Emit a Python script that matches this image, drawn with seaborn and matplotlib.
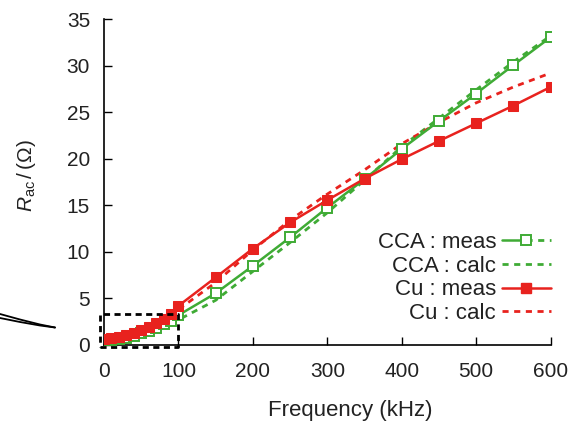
import matplotlib
matplotlib.use("Agg")
import matplotlib.pyplot as plt
from matplotlib.lines import Line2D
from matplotlib.legend_handler import HandlerBase
import seaborn as sns
import pandas as pd

# measured data
meas_freq = [0, 10, 20, 30, 40, 50, 60, 70, 80, 90, 100, 150, 200, 250, 300, 350, 400, 450, 500, 550, 600]
cca_meas = [0.5, 0.55, 0.65, 0.8, 1.0, 1.25, 1.5, 1.85, 2.2, 2.6, 3.2, 5.55, 8.5, 11.55, 14.75, 17.8, 21.05, 24.05, 27.0, 30.05, 33.05]
cu_meas = [0.6, 0.7, 0.85, 1.05, 1.3, 1.6, 1.95, 2.35, 2.8, 3.3, 4.2, 7.25, 10.35, 13.15, 15.55, 17.85, 19.95, 21.9, 23.8, 25.7, 27.7]

# calculated curves
calc_freq = [0, 25, 50, 75, 100, 150, 200, 250, 300, 350, 400, 450, 500, 550, 600]
cca_calc = [0.45, 0.6, 1.0, 1.7, 2.7, 4.8, 7.9, 11.0, 14.2, 17.7, 21.3, 24.35, 27.4, 30.4, 33.2]
cu_calc = [0.5, 0.9, 1.6, 2.6, 3.8, 6.7, 10.2, 13.4, 16.2, 18.8, 21.6, 23.9, 26.0, 27.7, 29.2]

x_ticks = [0, 100, 200, 300, 400, 500, 600]
y_ticks = [0, 5, 10, 15, 20, 25, 30, 35]

GREEN = "#3fab35"
RED = "#e8221e"
TXT = "#222222"
DASH = (0, (2.2, 2.0))

sns.set_style("ticks")
plt.rcParams["font.family"] = ["Liberation Sans", "DejaVu Sans"]
plt.rcParams["mathtext.fontset"] = "custom"
plt.rcParams["mathtext.it"] = "Liberation Sans:italic"
plt.rcParams["mathtext.rm"] = "Liberation Sans"

fig = plt.figure(figsize=(5.73, 4.28), dpi=100)
ax = fig.add_axes([0.1815, 0.194, 0.961 - 0.1815, 0.9556 - 0.194])

df_meas = pd.DataFrame({"f": meas_freq, "cca": cca_meas, "cu": cu_meas})
df_calc = pd.DataFrame({"f": calc_freq, "cca": cca_calc, "cu": cu_calc})

sns.lineplot(data=df_calc, x="f", y="cca", ax=ax, color=GREEN, lw=2, linestyle=DASH, zorder=2)
sns.lineplot(data=df_calc, x="f", y="cu", ax=ax, color=RED, lw=2, linestyle=DASH, zorder=2)
sns.lineplot(data=df_meas, x="f", y="cca", ax=ax, color=GREEN, lw=1.8, marker="s", markersize=7,
             markerfacecolor="white", markeredgecolor=GREEN, markeredgewidth=1.4, zorder=3)
sns.lineplot(data=df_meas, x="f", y="cu", ax=ax, color=RED, lw=1.8, marker="s", markersize=7,
             markerfacecolor=RED, markeredgecolor=RED, zorder=4)

ax.set_xlim(0, 600)
ax.set_ylim(0, 35)
ax.set_xticks(x_ticks)
ax.set_yticks(y_ticks)
sns.despine(ax=ax)
for s in ["left", "bottom"]:
    ax.spines[s].set_color("black")
    ax.spines[s].set_linewidth(1.2)
ax.tick_params(direction="in", length=6, width=1.0, labelsize=15, colors="black", labelcolor=TXT, pad=12)
ax.tick_params(axis="y", pad=10)

ax.set_xlabel("Frequency (kHz)", fontsize=16, color=TXT)
ax.set_ylabel(r"$R_{\mathrm{ac}}\,/\,$($\Omega$)", fontsize=15, color=TXT)
ax.xaxis.set_label_coords(0.551, -0.168)
ax.yaxis.set_label_coords(-0.148, 0.521)

# dashed zoom rectangle
ax.plot([-5, 99.5, 99.5, -5, -5], [-0.2, -0.2, 3.33, 3.33, -0.2], color="black", lw=2,
        linestyle=(0, (2.2, 1.6)), clip_on=False, zorder=5)

# remnant lines of an inset connector at left edge
W, H = 573.0, 428.0
fig.add_artist(Line2D([0 / W, 20 / W, 40 / W, 55 / W],
                      [1 - 314 / H, 1 - 319.5 / H, 1 - 324.5 / H, 1 - 327.5 / H],
                      color="black", lw=1.3))
fig.add_artist(Line2D([0 / W, 20 / W, 40 / W, 55 / W],
                      [1 - 318 / H, 1 - 322 / H, 1 - 325.5 / H, 1 - 327.5 / H],
                      color="black", lw=1.3))


class SolidMarkerDashed(HandlerBase):
    """Solid line up to the marker, dashed after it (as in the reference key)."""
    def create_artists(self, legend, orig_handle, xdescent, ydescent, width, height, fontsize, trans):
        y = height / 2.0 - ydescent
        x0, x1 = -xdescent, -xdescent + width
        xm = x0 + 0.5 * width
        solid = Line2D([x0, xm], [y, y], color=orig_handle.get_color(), lw=1.8)
        dashed = Line2D([xm, x1], [y, y], color=orig_handle.get_color(), lw=2, linestyle=DASH)
        mk = Line2D([xm], [y], marker="s", markersize=7, markerfacecolor="white",
                    markeredgecolor=orig_handle.get_color(), markeredgewidth=1.4, linestyle="none")
        for a in (solid, dashed, mk):
            a.set_transform(trans)
        return [solid, dashed, mk]


h_cca_meas = Line2D([], [], color=GREEN, lw=1.8, marker="s", markersize=7, markerfacecolor="white",
                    markeredgecolor=GREEN, markeredgewidth=1.4)
handles = [
    h_cca_meas,
    Line2D([], [], color=GREEN, lw=2, linestyle=DASH),
    Line2D([], [], color=RED, lw=1.8, marker="s", markersize=7, markerfacecolor=RED),
    Line2D([], [], color=RED, lw=2, linestyle=DASH),
]
labels = ["CCA : meas", "CCA : calc", "Cu : meas", "Cu : calc"]
ax.legend(handles, labels, loc="center right", bbox_to_anchor=(1.0, 0.2055), frameon=False,
          markerfirst=False, fontsize=16, handlelength=2.2, handletextpad=0.25,
          labelspacing=0.12, borderpad=0, borderaxespad=0, labelcolor=TXT,
          handler_map={h_cca_meas: SolidMarkerDashed()})

fig.savefig("out.png", dpi=100)
